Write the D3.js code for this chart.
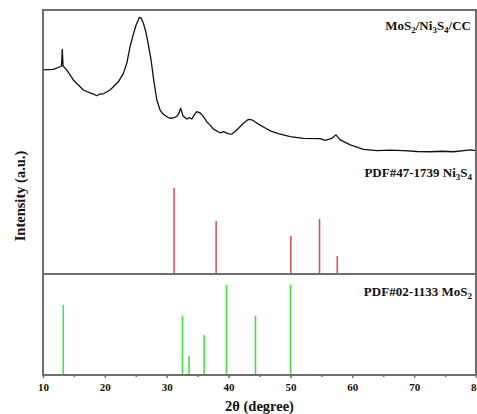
<!DOCTYPE html>
<html><head><meta charset="utf-8">
<script src="https://cdn.jsdelivr.net/npm/d3@7"></script>
<style>body{margin:0;background:#fff}svg{display:block}text{font-family:"Liberation Serif","Times New Roman",serif;font-weight:bold;fill:#111}</style>
</head><body><svg id="c" width="477" height="414"></svg>
<script>
// XRD pattern of MoS2/Ni3S4/CC (2θ in degrees, intensity a.u.)
const xrdTheta = [10.05,11.67,12.75,12.99,13.12,13.24,13.83,14.90,16.52,17.60,18.30,18.69,19.10,19.71,20.84,22.18,23.00,23.54,24.08,24.56,25.05,25.58,25.86,26.23,26.66,27.04,27.47,27.85,28.40,28.93,29.41,30.01,30.50,31.08,31.63,31.92,32.25,32.65,33.25,33.70,34.06,34.43,34.87,35.40,35.89,36.48,37.02,37.55,38.64,39.20,39.72,40.10,40.53,41.06,41.60,42.41,43.21,43.76,44.30,45.11,45.92,46.73,48.07,49.96,52.11,54.81,55.62,56.71,57.35,58.05,59.67,61.82,63.99,66.00,68.29,70.50,72.61,74.50,76.38,79.08,80.00];
const xrdIntensity = [77.3,77.5,78.5,78.8,85.1,78.8,77.3,73.5,69.7,68.6,68.0,67.5,68.1,68.2,69.7,72.8,76.0,79.8,86.1,90.5,94.3,97.2,97.0,95.0,91.3,86.7,81.1,74.2,65.9,62.1,60.6,59.6,59.0,59.1,59.7,60.6,62.8,59.8,58.7,59.2,58.7,60.2,61.5,61.0,59.8,57.7,56.4,54.9,53.5,53.9,53.4,53.1,53.0,54.0,55.2,57.1,58.6,58.4,57.6,56.4,55.3,54.2,53.2,52.0,51.4,51.3,50.6,51.4,52.7,50.8,48.9,47.2,46.7,46.9,46.7,46.4,46.3,46.5,46.3,47.0,46.7];
// PDF#47-1739 Ni3S4 reference lines
const ni3s4Theta = [31.19,37.99,50.07,54.70,57.57];
const ni3s4Rel = [100,61.6,44.2,64.0,20.9];
// PDF#02-1133 MoS2 reference lines
const mos2Theta = [13.28,32.54,33.62,36.05,39.66,44.35,50.01];
const mos2Rel = [77.5,65.7,21.4,44.3,99.7,65.7,100];
const xTicks = [10,20,30,40,50,60,70,80];
const xMinorTicks = [15,25,35,45,55,65,75];
const xTitle = "2θ (degree)";
const yTitle = "Intensity (a.u.)";

const svg = d3.select("#c");
const L=43,R=476,T=10,B=375,MID=274;
const x = d3.scaleLinear().domain([10,80]).range([L,R]);
const yCurve = d3.scaleLinear().domain([0,100]).range([MID,T]);
const yNi = d3.scaleLinear().domain([0,100]).range([MID,188]);
const yMo = d3.scaleLinear().domain([0,100]).range([B,284.7]);

// reference sticks
svg.append("g").selectAll("line").data(ni3s4Theta).join("line")
  .attr("x1",d=>x(d)).attr("x2",d=>x(d))
  .attr("y1",yNi(0)).attr("y2",(d,i)=>yNi(ni3s4Rel[i]))
  .attr("stroke","#e8505e").attr("stroke-width",1.6);
svg.append("g").selectAll("line").data(mos2Theta).join("line")
  .attr("x1",d=>x(d)).attr("x2",d=>x(d))
  .attr("y1",yMo(0)).attr("y2",(d,i)=>yMo(mos2Rel[i]))
  .attr("stroke","#3ee83e").attr("stroke-width",1.6);

// XRD curve
const pts = xrdTheta.map((t,i)=>[t,xrdIntensity[i]]);
svg.append("path").datum(pts)
  .attr("d",d3.line().x(d=>x(d[0])).y(d=>yCurve(d[1])))
  .attr("fill","none").attr("stroke","#111").attr("stroke-width",1.3).attr("stroke-linejoin","round");

// frame
const fc="#6e6e6e";
svg.append("rect").attr("x",L).attr("y",T).attr("width",R-L).attr("height",B-T)
  .attr("fill","none").attr("stroke",fc).attr("stroke-width",2);
svg.append("line").attr("x1",L).attr("x2",R).attr("y1",MID).attr("y2",MID)
  .attr("stroke",fc).attr("stroke-width",2);

// x axis
const ax = svg.append("g").attr("transform",`translate(0,${B})`)
  .call(d3.axisBottom(x).tickValues(xTicks).tickSize(3).tickPadding(5).tickFormat(d3.format("d")));
ax.select(".domain").remove();
ax.selectAll(".tick line").attr("stroke",fc).attr("stroke-width",1.5);
ax.selectAll("text").style("font-family",'"Liberation Serif",serif').style("font-weight","bold").style("font-size","11px").attr("fill","#111");
const axm = svg.append("g").attr("transform",`translate(0,${B})`)
  .call(d3.axisBottom(x).tickValues(xMinorTicks).tickSize(2).tickFormat(""));
axm.select(".domain").remove();
axm.selectAll(".tick line").attr("stroke",fc).attr("stroke-width",1.5);

svg.append("text").attr("x",(L+R)/2).attr("y",411).attr("text-anchor","middle")
  .style("font-size","14.5px").text(xTitle);
svg.append("text").attr("transform","translate(25,196) rotate(-90)").attr("text-anchor","middle")
  .style("font-size","14.5px").text(yTitle);

// labels with subscripts
function label(parts,xp,yp){
  const t = svg.append("text").attr("x",xp).attr("y",yp).attr("text-anchor","end").style("font-size","13px");
  let shifted = false;
  parts.forEach(p=>{
    const ts = t.append("tspan").text(p.s);
    if(p.sub){ ts.attr("dy",3).style("font-size","9px"); shifted = true; }
    else if(shifted){ ts.attr("dy",-3); shifted = false; }
  });
}
label([{s:"MoS"},{s:"2",sub:1},{s:"/Ni"},{s:"3",sub:1},{s:"S"},{s:"4",sub:1},{s:"/CC"}],471,30);
label([{s:"PDF#47-1739 Ni"},{s:"3",sub:1},{s:"S"},{s:"4",sub:1}],472,177);
label([{s:"PDF#02-1133 MoS"},{s:"2",sub:1}],472,296);
</script></body></html>
